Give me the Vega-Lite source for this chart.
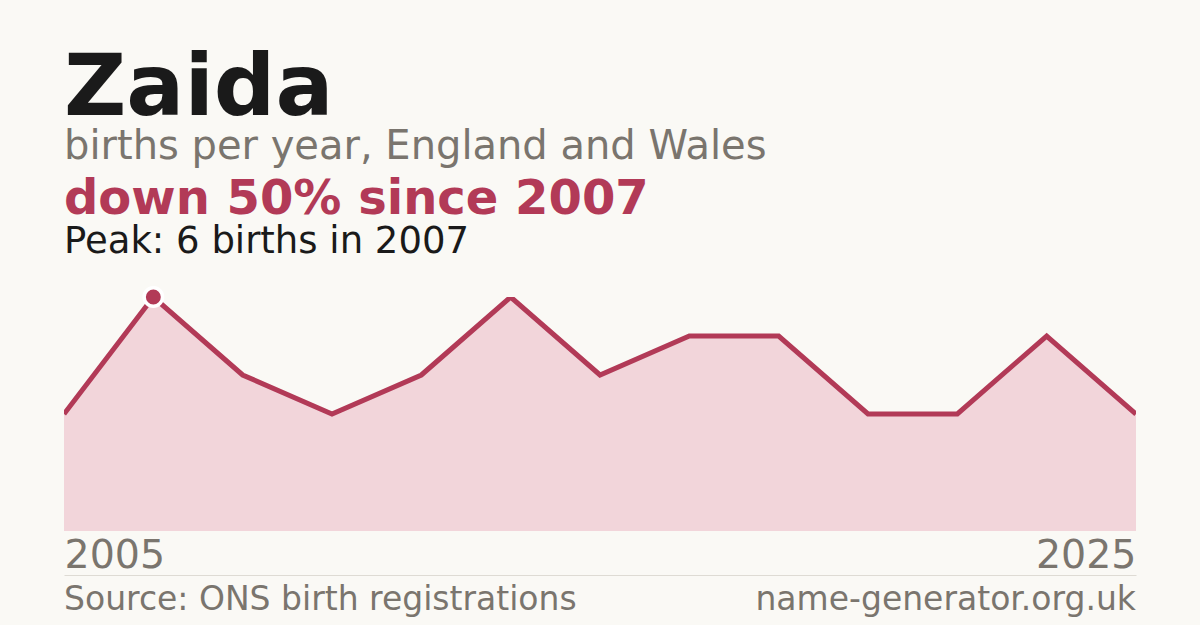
{
  "$schema": "https://vega.github.io/schema/vega-lite/v6.json",
  "background": "#faf9f5",
  "padding": {"left": 64, "right": 64, "top": 45, "bottom": 0},
  "autosize": {"type": "pad"},
  "config": {
    "font": "DejaVu Sans",
    "view": {"stroke": null},
    "concat": {"spacing": -9}
  },
  "title": {
    "text": "Zaida",
    "subtitle": "births per year, England and Wales",
    "anchor": "start",
    "frame": "group",
    "font": "DejaVu Sans",
    "fontSize": 86,
    "fontWeight": "bold",
    "color": "#1a1a1a",
    "subtitleFont": "DejaVu Sans",
    "subtitleFontSize": 40,
    "subtitleColor": "#7a756e",
    "subtitlePadding": -6,
    "offset": 8
  },
  "datasets": {
    "births": [
      {"i": 0, "year": 2005, "births": 3},
      {"i": 1, "year": 2007, "births": 6},
      {"i": 2, "year": 2008, "births": 4},
      {"i": 3, "year": 2010, "births": 3},
      {"i": 4, "year": 2011, "births": 4},
      {"i": 5, "year": 2013, "births": 6},
      {"i": 6, "year": 2014, "births": 4},
      {"i": 7, "year": 2016, "births": 5},
      {"i": 8, "year": 2017, "births": 5},
      {"i": 9, "year": 2019, "births": 3},
      {"i": 10, "year": 2021, "births": 3},
      {"i": 11, "year": 2023, "births": 5},
      {"i": 12, "year": 2025, "births": 3}
    ],
    "footer": [
      {"i": 0, "label": "Source: ONS birth registrations", "side": "left"},
      {"i": 12, "label": "name-generator.org.uk", "side": "right"}
    ]
  },
  "vconcat": [
    {
      "width": 1072,
      "height": 234,
      "title": {
        "text": "down 50% since 2007",
        "subtitle": "Peak: 6 births in 2007",
        "anchor": "start",
        "frame": "group",
        "fontSize": 48,
        "fontWeight": "bold",
        "color": "#b23a57",
        "subtitleFontSize": 37,
        "subtitleColor": "#1a1a1a",
        "subtitlePadding": 0,
        "offset": 21
      },
      "data": {"name": "births"},
      "encoding": {
        "x": {
          "field": "i",
          "type": "quantitative",
          "scale": {"domain": [0, 12], "nice": false, "zero": false},
          "axis": {
            "title": null,
            "values": [0, 12],
            "labelExpr": "datum.value == 0 ? '2005' : '2025'",
            "labelFlush": true,
            "labelFontSize": 39.5,
            "labelColor": "#7a756e",
            "labelPadding": 5,
            "ticks": false,
            "domain": false,
            "grid": false
          }
        },
        "y": {
          "field": "births",
          "type": "quantitative",
          "scale": {"domain": [0, 6], "nice": false},
          "axis": null
        }
      },
      "layer": [
        {"mark": {"type": "area", "color": "#f2d5da", "clip": true}},
        {"mark": {"type": "line", "color": "#b23a57", "strokeWidth": 5, "clip": true}},
        {
          "transform": [{"filter": "datum.year == 2007"}],
          "mark": {"type": "point", "filled": true, "color": "#b23a57", "size": 340, "stroke": "#ffffff", "strokeWidth": 3.5, "opacity": 1}
        }
      ]
    },
    {
      "width": 1072,
      "height": 50,
      "data": {"name": "footer"},
      "encoding": {
        "x": {
          "field": "i",
          "type": "quantitative",
          "scale": {"domain": [0, 12], "nice": false, "zero": false},
          "axis": {
            "orient": "top",
            "title": null,
            "labels": false,
            "ticks": false,
            "grid": false,
            "domain": true,
            "domainColor": "#dedbd4",
            "domainWidth": 1
          }
        },
        "text": {"field": "label"}
      },
      "layer": [
        {
          "transform": [{"filter": "datum.side == 'left'"}],
          "mark": {"type": "text", "fontSize": 33, "color": "#7a756e", "baseline": "alphabetic", "align": "left", "dy": 10}
        },
        {
          "transform": [{"filter": "datum.side == 'right'"}],
          "mark": {"type": "text", "fontSize": 33, "color": "#7a756e", "baseline": "alphabetic", "align": "right", "dy": 10}
        }
      ]
    }
  ]
}
